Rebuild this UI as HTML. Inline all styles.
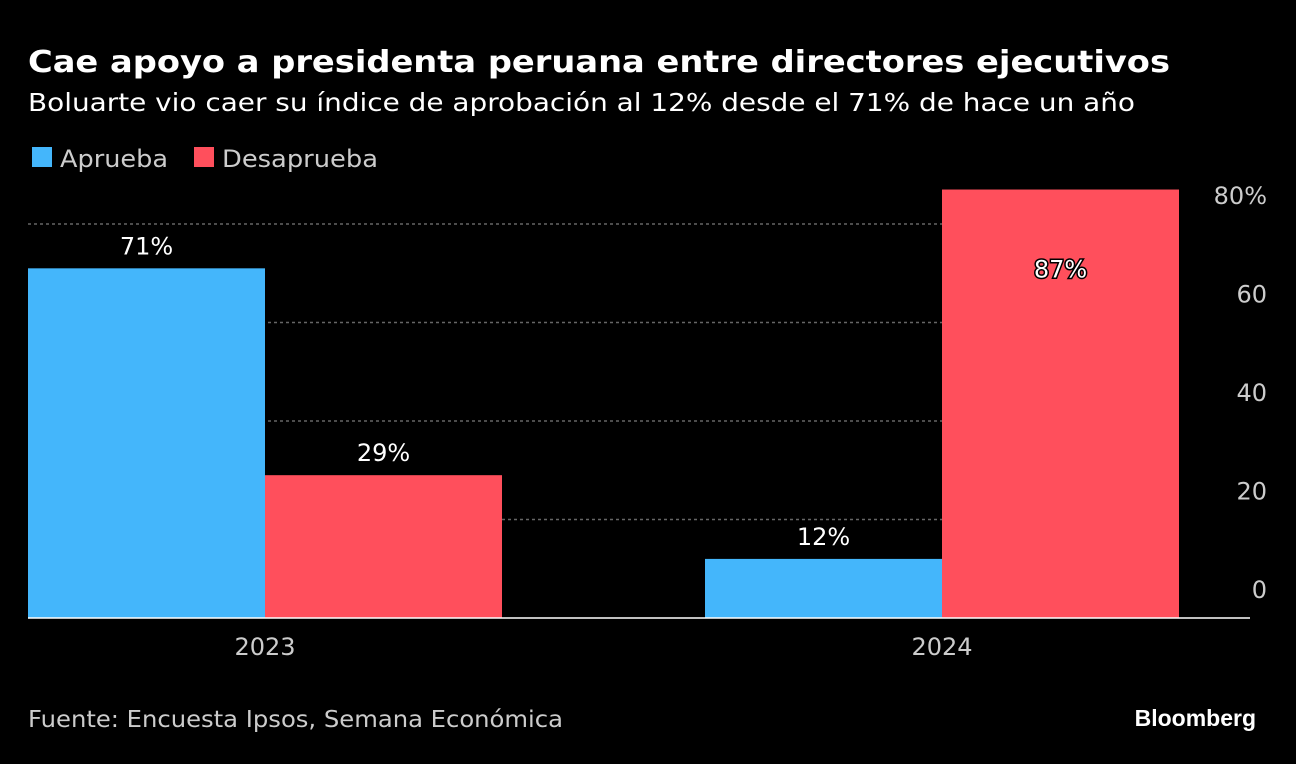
<!DOCTYPE html>
<html><head><meta charset="utf-8"><style>
body{margin:0;background:#000;width:1296px;height:760px;overflow:hidden;font-family:"DejaVu Sans","Liberation Sans",sans-serif;color:#fff}
</style></head><body>
<svg width="1296" height="760" xmlns="http://www.w3.org/2000/svg" font-family="DejaVu Sans, Liberation Sans, sans-serif">
<rect width="1296" height="760" fill="#000"/>
<text x="28" y="72" font-size="30" font-weight="bold" fill="#fff" textLength="1142" lengthAdjust="spacingAndGlyphs">Cae apoyo a presidenta peruana entre directores ejecutivos</text>
<text x="28" y="111" font-size="25" fill="#fff" textLength="1107" lengthAdjust="spacingAndGlyphs">Boluarte vio caer su índice de aprobación al 12% desde el 71% de hace un año</text>
<g>
<rect x="32" y="147" width="20" height="20" fill="#44b6fb"/>
<text x="60" y="167" font-size="24" fill="#ccc" textLength="108" lengthAdjust="spacingAndGlyphs">Aprueba</text>
<rect x="194" y="147" width="20" height="20" fill="#ff4f5c"/>
<text x="222" y="167" font-size="24" fill="#ccc" textLength="156" lengthAdjust="spacingAndGlyphs">Desaprueba</text>
</g>
<g id="plot"></g>
<text x="28" y="727" font-size="23" fill="#ccc" textLength="535" lengthAdjust="spacingAndGlyphs">Fuente: Encuesta Ipsos, Semana Económica</text>
<text x="1256" y="726" font-size="23" font-weight="bold" fill="#fff" text-anchor="end" font-family="Liberation Sans, sans-serif">Bloomberg</text>
</svg>
<script>
const categories=["2023","2024"];
const aprueba=[71,12];
const desaprueba=[29,87];
const ticks=[0,20,40,60,80];
const tickLabels=["0","20","40","60","80%"];
const NS="http://www.w3.org/2000/svg";
const g=document.getElementById('plot');
const y0=618, pxPer=4.925;
const y=v=>y0-v*pxPer;
const bandStart=28, band=677, barW=237;
const xc=i=>bandStart+237+i*band;
function mk(t,a){const e=document.createElementNS(NS,t);for(const k in a)e.setAttribute(k,a[k]);g.appendChild(e);return e;}
ticks.forEach((t,i)=>{
  if(t>0){const l=mk('line',{x1:28,x2:1180,y1:y(t),y2:y(t),stroke:'#666','stroke-dasharray':'3,3','stroke-width':1.5});
  
  }
  const tx=mk('text',{x:1267,y:y(t)-20,'font-size':24,fill:'#ccc','text-anchor':'end'});
  tx.textContent=tickLabels[i];
  
  
});
categories.forEach((c,i)=>{
  const cx=xc(i);
  [[aprueba[i],cx-barW,'#44b6fb','aprueba'],[desaprueba[i],cx,'#ff4f5c','desaprueba']].forEach(([v,x,col,nm])=>{
    const r=mk('rect',{x:x,y:y(v),width:barW,height:v*pxPer,fill:col});
    
    
    const inside=y(v)<200;
    const t=mk('text',{x:x+barW/2,y:inside?y(v)+88:y(v)-14,'font-size':24,fill:'#fff','text-anchor':'middle'});
    if(inside){t.setAttribute('stroke','#000');t.setAttribute('stroke-width','3');t.setAttribute('paint-order','stroke');}
    t.textContent=v+'%';
    
    
  });
  const lb=mk('text',{x:cx,y:655,'font-size':24,fill:'#ccc','text-anchor':'middle'});
  lb.textContent=c;
  
  
});
const bl=mk('line',{x1:28,x2:1250,y1:y0,y2:y0,stroke:'#fff','stroke-width':1.5});


</script>
</body></html>
